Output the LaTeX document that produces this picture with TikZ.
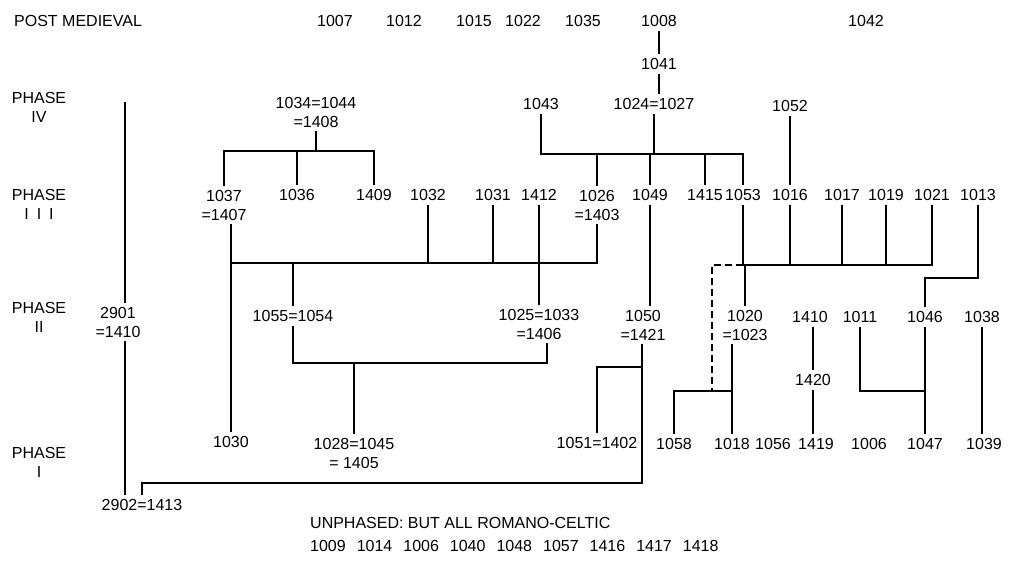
\documentclass[tikz,border=0pt]{standalone}
\usepackage{fontspec}
\setmainfont{Liberation Sans}
\usetikzlibrary{positioning,calc}

\begin{document}
\begin{tikzpicture}[x=1pt, y=-1pt,
every node/.style={
        font=\fontsize{16}{19}\selectfont
    },
    Ctx/.style = {inner sep=4pt, align=center},
    Phase/.style = {inner sep=0pt, align=center},
    link/.style = {line width=1.2pt},
    ]
\useasboundingbox (0,0) rectangle (1009,567);

% phase labels
\node (PostMed)  [Phase, anchor=west] at (14,21) {POST MEDIEVAL};
\node (PhaseIV)  [Phase] at (39,107) {PHASE\\IV};
\node (PhaseIII) [Phase] at (39,204) {PHASE\\I\enspace I\enspace I};
\node (PhaseII)  [Phase] at (39,317) {PHASE\\II};
\node (PhaseI)   [Phase] at (39,462) {PHASE\\I};

% post medieval
\node (Ctx1007) [Ctx] at (335,21) {1007};
\node (Ctx1012) [Ctx] at (404,21) {1012};
\node (Ctx1015) [Ctx] at (474,21) {1015};
\node (Ctx1022) [Ctx] at (523,21) {1022};
\node (Ctx1035) [Ctx] at (583,21) {1035};
\node (Ctx1008) [Ctx] at (659,21) {1008};
\node (Ctx1042) [Ctx] at (866,21) {1042};
\node (Ctx1041) [Ctx] at (659,64) {1041};

% phase IV
\node (Ctx1034) [Ctx] at (316,112) {1034=1044\\=1408};
\node (Ctx1043) [Ctx] at (541,104) {1043};
\node (Ctx1024) [Ctx] at (654,104) {1024=1027};
\node (Ctx1052) [Ctx] at (790,106) {1052};

% phase III
\node (Ctx1037) [Ctx] at (224,205) {1037\\=1407};
\node (Ctx1036) [Ctx] at (297,195) {1036};
\node (Ctx1409) [Ctx] at (374,195) {1409};
\node (Ctx1032) [Ctx] at (428,195) {1032};
\node (Ctx1031) [Ctx] at (493,195) {1031};
\node (Ctx1412) [Ctx] at (539,195) {1412};
\node (Ctx1026) [Ctx] at (597,205) {1026\\=1403};
\node (Ctx1049) [Ctx] at (650,195) {1049};
\node (Ctx1415) [Ctx] at (705,195) {1415};
\node (Ctx1053) [Ctx] at (743,195) {1053};
\node (Ctx1016) [Ctx] at (790,195) {1016};
\node (Ctx1017) [Ctx] at (842,195) {1017};
\node (Ctx1019) [Ctx] at (886,195) {1019};
\node (Ctx1021) [Ctx] at (932,195) {1021};
\node (Ctx1013) [Ctx] at (978,195) {1013};

% phase II
\node (Ctx2901) [Ctx] at (118,322) {2901\\=1410};
\node (Ctx1055) [Ctx] at (293,316) {1055=1054};
\node (Ctx1025) [Ctx] at (539,324) {1025=1033\\=1406};
\node (Ctx1050) [Ctx] at (643,325) {1050\\=1421};
\node (Ctx1020) [Ctx] at (745,325) {1020\\=1023};
\node (Ctx1410) [Ctx] at (810,317) {1410};
\node (Ctx1011) [Ctx] at (860,317) {1011};
\node (Ctx1046) [Ctx] at (925,317) {1046};
\node (Ctx1038) [Ctx] at (982,317) {1038};
\node (Ctx1420) [Ctx] at (813,380) {1420};

% phase I
\node (Ctx1030) [Ctx] at (231,442) {1030};
\node (Ctx1028) [Ctx] at (354,453) {1028=1045\\= 1405};
\node (Ctx1051) [Ctx] at (597,443) {1051=1402};
\node (Ctx1058) [Ctx] at (674,444) {1058};
\node (Ctx1018) [Ctx] at (732,444) {1018};
\node (Ctx1056) [Ctx] at (773,444) {1056};
\node (Ctx1419) [Ctx] at (816,444) {1419};
\node (Ctx1006) [Ctx] at (869,444) {1006};
\node (Ctx1047) [Ctx] at (925,444) {1047};
\node (Ctx1039) [Ctx] at (984,444) {1039};
\node (Ctx2902) [Ctx] at (142,505) {2902=1413};

% unphased
\node (Unphased) [Phase, anchor=west] at (310,523) {UNPHASED: BUT ALL ROMANO-CELTIC};
\node (UnphasedList) [Phase, anchor=west] at (310,546)
        {1009\hspace{11pt}1014\hspace{11pt}1006\hspace{11pt}1040\hspace{11pt}1048\hspace{11pt}1057\hspace{11pt}1416\hspace{11pt}1417\hspace{11pt}1418};

\coordinate (BarIV)      at (0,154);
\coordinate (Bar34)      at (0,151);
\coordinate (BarIIIa)    at (0,263);
\coordinate (BarIIIb)    at (0,265);
\coordinate (Bar1013)    at (0,278);
\coordinate (Bar1055)    at (0,363);
\coordinate (Bar1050)    at (0,367);
\coordinate (BarI)       at (0,391);
\coordinate (Bar2902)    at (642,483);
\coordinate (Line2901)   at (125,102);
\coordinate (DashCorner) at (712,265);

\draw[link] (Ctx1043) -- (Ctx1043 |- BarIV) -| (Ctx1053);
\draw[link] (Ctx1037) -- (Ctx1037 |- Bar34) -| (Ctx1409);
\draw[link] (Ctx1030 |- Ctx1037.south) -- (Ctx1030);
\draw[link] (Ctx1030 |- BarIIIa) -| (Ctx1026);
\draw[link] (Ctx1055) -- (Ctx1055 |- Bar1055) -| ([xshift=8pt]Ctx1025.south);
\draw[link] (Ctx2902) |- (Bar2902) -- (Bar2902 |- Ctx1050.south);
\draw[link] (Bar2902 |- Bar1050) -| (Ctx1051);
\draw[link] (Ctx1053) -- (Ctx1053 |- BarIIIb) -| (Ctx1021);
\draw[link, dash pattern=on 7pt off 4pt] (Ctx1053 |- BarIIIb) -- (DashCorner) -- (DashCorner |- BarI);
\draw[link] (Ctx1058) |- (Ctx1018 |- BarI);
\draw[link] (Ctx1013) -- (Ctx1013 |- Bar1013) -| (Ctx1046);
\draw[link] (Ctx1011) |- (Ctx1047 |- BarI);

\path[link]
    (Ctx1008) edge (Ctx1041)
    (Ctx1041) edge (Ctx1041 |- Ctx1024.north)
    (Ctx1024) edge (Ctx1024 |- BarIV)
    (Ctx1026) edge (Ctx1026 |- BarIV)
    (Ctx1049) edge (Ctx1049 |- BarIV)
    (Ctx1415) edge (Ctx1415 |- BarIV)
    (Ctx1034) edge (Ctx1034 |- Bar34)
    (Ctx1036) edge (Ctx1036 |- Bar34)
    (Ctx1052) edge (Ctx1016)
    (Ctx1032) edge (Ctx1032 |- BarIIIa)
    (Ctx1031) edge (Ctx1031 |- BarIIIa)
    (Ctx1412) edge (Ctx1025)
    (Ctx1055 |- BarIIIa) edge (Ctx1055)
    (Ctx1028 |- Bar1055) edge (Ctx1028)
    (Ctx1049) edge (Ctx1049 |- Ctx1050.north)
    (Line2901) edge (Line2901 |- Ctx2901.north)
    (Line2901 |- Ctx2901.south) edge (Line2901 |- Ctx2902.north)
    (Ctx1016) edge (Ctx1016 |- BarIIIb)
    (Ctx1017) edge (Ctx1017 |- BarIIIb)
    (Ctx1019) edge (Ctx1019 |- BarIIIb)
    (Ctx1020 |- BarIIIb) edge (Ctx1020)
    (Ctx1018 |- Ctx1020.south) edge (Ctx1018)
    (Ctx1046) edge (Ctx1047)
    (Ctx1420 |- Ctx1410.south) edge (Ctx1420)
    (Ctx1420) edge (Ctx1420 |- Ctx1419.north)
    (Ctx1038) edge (Ctx1038 |- Ctx1039.north);
\end{tikzpicture}
\end{document}
